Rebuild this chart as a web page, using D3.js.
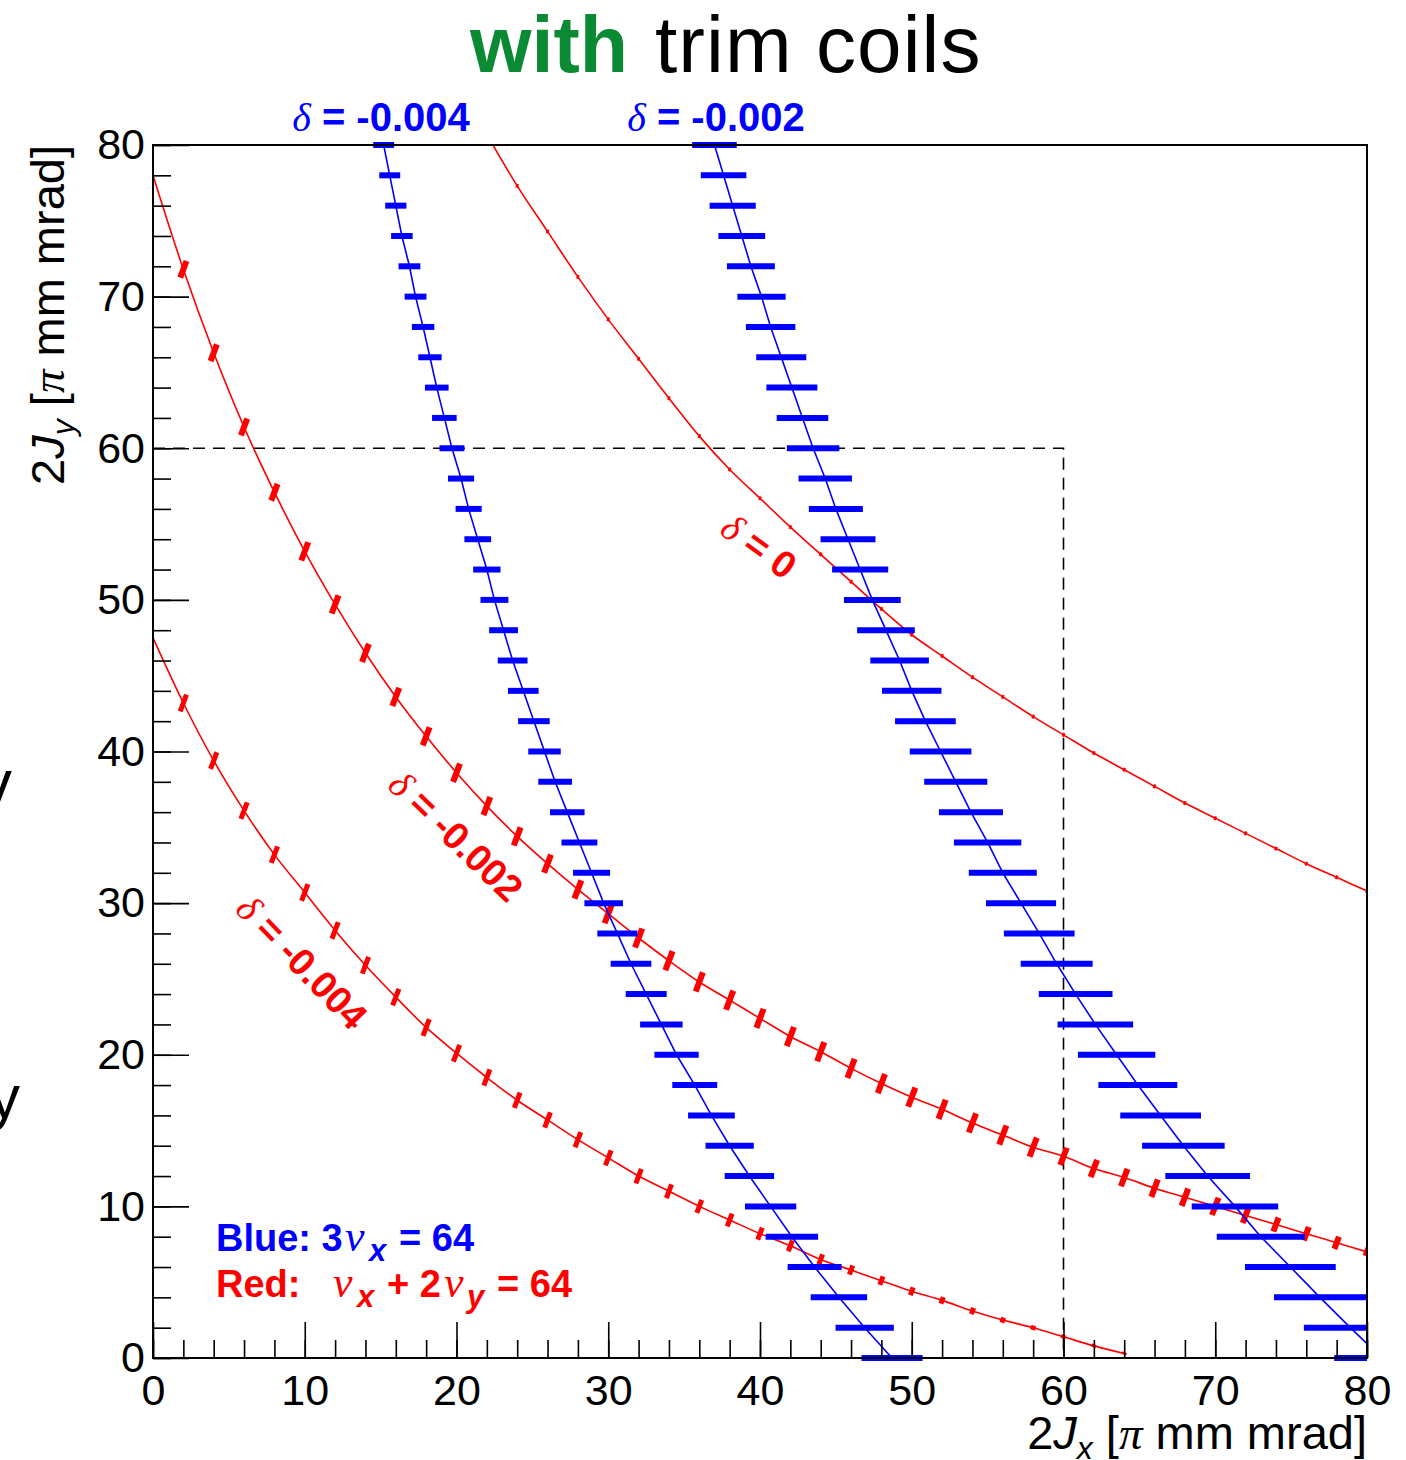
<!DOCTYPE html>
<html>
<head>
<meta charset="utf-8">
<script src="https://cdn.jsdelivr.net/npm/d3@7"></script>
<style>
  body { margin: 0; background: #fff; }
  svg { display: block; }
  text { font-family: "Liberation Sans", Arial, Helvetica, sans-serif; }
  .greek { font-family: "Liberation Serif", "Times New Roman", serif; font-style: italic; font-weight: normal; }
</style>
</head>
<body>
<svg id="chart" width="1406" height="1460"></svg>
<script>
// ---- axis ticks ----
const majorTicks = [0, 10, 20, 30, 40, 50, 60, 70, 80];
const minorTicks = [0, 2, 4, 6, 8, 10, 12, 14, 16, 18, 20, 22, 24, 26, 28, 30, 32, 34, 36, 38, 40,
                    42, 44, 46, 48, 50, 52, 54, 56, 58, 60, 62, 64, 66, 68, 70, 72, 74, 76, 78, 80];

// ---- blue: 3 nu_x = 64, sampled at fixed 2Jy levels (horizontal spread = error) ----
const blueLevels = [80, 78, 76, 74, 72, 70, 68, 66, 64, 62, 60, 58, 56, 54, 52, 50, 48, 46, 44, 42, 40,
                    38, 36, 34, 32, 30, 28, 26, 24, 22, 20, 18, 16, 14, 12, 10, 8, 6, 4, 2, 0];
const blueJx004 = [15.2, 15.6, 16.0, 16.4, 16.9, 17.3, 17.8, 18.25, 18.7, 19.2, 19.7, 20.3, 20.8, 21.4, 22.0,
                   22.5, 23.1, 23.7, 24.4, 25.1, 25.8, 26.5, 27.3, 28.1, 28.9, 29.7, 30.6, 31.5, 32.5, 33.5,
                   34.5, 35.7, 36.8, 38.0, 39.3, 40.7, 42.1, 43.6, 45.2, 46.9, 48.7];
const blueErr004 = [0.69, 0.69, 0.70, 0.71, 0.72, 0.72, 0.74, 0.77, 0.78, 0.81, 0.82, 0.86, 0.86, 0.88, 0.90,
                    0.92, 0.95, 0.98, 1.01, 1.04, 1.07, 1.11, 1.14, 1.18, 1.22, 1.27, 1.32, 1.34, 1.35, 1.40,
                    1.46, 1.48, 1.54, 1.59, 1.63, 1.69, 1.73, 1.78, 1.86, 1.92, 2.01];
const blueJx002 = [37.0, 37.6, 38.2, 38.8, 39.4, 40.1, 40.7, 41.4, 42.1, 42.8, 43.5, 44.3, 45.0, 45.8, 46.6,
                   47.4, 48.3, 49.2, 50.0, 50.9, 51.9, 52.9, 53.9, 55.0, 56.0, 57.2, 58.4, 59.55, 60.8, 62.1,
                   63.5, 64.9, 66.4, 67.9, 69.5, 71.3, 73.0, 74.95, 76.9, 78.9, 81.0];
const blueErr002 = [1.47, 1.50, 1.52, 1.54, 1.58, 1.59, 1.63, 1.65, 1.68, 1.70, 1.73, 1.76, 1.78, 1.81, 1.85,
                    1.87, 1.90, 1.93, 1.96, 2.00, 2.03, 2.08, 2.11, 2.22, 2.24, 2.31, 2.33, 2.37, 2.43, 2.49,
                    2.55, 2.60, 2.66, 2.72, 2.79, 2.85, 2.90, 2.99, 3.03, 3.06, 3.16];

// ---- red: nu_x + 2 nu_y = 64, sampled at fixed 2Jx values (vertical spread = error) ----
const redJx0 = [22, 24, 26, 28, 30, 32, 34, 36, 38, 40, 42, 44, 46, 48, 50, 52, 54, 56, 58, 60,
                62, 64, 66, 68, 70, 72, 74, 76, 78, 80];
const redJy0 = [80.7, 77.3, 74.3, 71.3, 68.5, 65.9, 63.3, 60.8, 58.6, 56.7, 54.8, 53.0, 51.2, 49.4, 47.7,
                46.3, 44.9, 43.6, 42.3, 41.1, 39.9, 38.8, 37.7, 36.6, 35.6, 34.6, 33.6, 32.6, 31.7, 30.8];
const redErr0 = [0.12, 0.12, 0.12, 0.12, 0.12, 0.12, 0.12, 0.12, 0.12, 0.12, 0.12, 0.12, 0.12, 0.12, 0.12,
                 0.12, 0.12, 0.12, 0.12, 0.12, 0.12, 0.12, 0.12, 0.12, 0.12, 0.12, 0.12, 0.12, 0.12, 0.12];

const redJx002 = [0, 2, 4, 6, 8, 10, 12, 14, 16, 18, 20, 22, 24, 26, 28, 30, 32, 34, 36, 38, 40,
                  42, 44, 46, 48, 50, 52, 54, 56, 58, 60, 62, 64, 66, 68, 70, 72, 74, 76, 78, 80];
const redJy002 = [78.0, 71.8, 66.3, 61.4, 57.1, 53.2, 49.7, 46.5, 43.6, 41.0, 38.6, 36.4, 34.4, 32.6, 30.9,
                  29.3, 27.7, 26.2, 24.8, 23.6, 22.4, 21.2, 20.2, 19.1, 18.1, 17.2, 16.4, 15.5, 14.7, 13.9,
                  13.3, 12.5, 11.9, 11.2, 10.6, 10.0, 9.4, 8.8, 8.2, 7.6, 7.0];
const redErr002 = [0, 0.55, 0.55, 0.55, 0.55, 0.6, 0.6, 0.6, 0.6, 0.6, 0.6, 0.6, 0.6, 0.6, 0.6,
                   0.63, 0.63, 0.63, 0.63, 0.63, 0.63, 0.63, 0.63, 0.63, 0.63, 0.63, 0.63, 0.63, 0.63, 0.63,
                   0.57, 0.57, 0.57, 0.57, 0.57, 0.57, 0.5, 0.46, 0.44, 0.4, 0.27];

const redJx004 = [0, 2, 4, 6, 8, 10, 12, 14, 16, 18, 20, 22, 24, 26, 28, 30, 32, 34, 36, 38, 40,
                  42, 44, 46, 48, 50, 52, 54, 56, 58, 60, 62, 64];
const redJy004 = [47.5, 43.2, 39.4, 36.1, 33.2, 30.7, 28.2, 25.9, 23.8, 21.8, 20.1, 18.5, 17.0, 15.7, 14.4,
                  13.2, 12.0, 11.0, 10.0, 9.1, 8.2, 7.4, 6.5, 5.8, 5.1, 4.4, 3.8, 3.1, 2.5, 2.0, 1.4, 0.8, 0.3];
const redErr004 = [0, 0.55, 0.55, 0.55, 0.55, 0.55, 0.55, 0.55, 0.55, 0.55, 0.55, 0.53, 0.5, 0.5, 0.5,
                   0.5, 0.48, 0.45, 0.43, 0.42, 0.4, 0.36, 0.33, 0.3, 0.28, 0.26, 0.22, 0.2, 0.17, 0.14,
                   0.12, 0.1, 0.08];

// reference box: 2Jx <= 60, 2Jy <= 60
const boxJx = [0, 60, 60];
const boxJy = [60, 60, 0];

// ---- layout ----
const svg = d3.select("#chart");
const L = 153, R = 1367, T = 145, B = 1358;
const x = d3.scaleLinear().domain([0, 80]).range([L, R]);
const y = d3.scaleLinear().domain([0, 80]).range([B, T]);

const BLUE = "#0000ff", RED = "#ff0000";

const defs = svg.append("defs");
defs.append("clipPath").attr("id", "plotClip")
  .append("rect").attr("x", L).attr("y", T).attr("width", R - L).attr("height", B - T);
defs.append("clipPath").attr("id", "barClip")
  .append("rect").attr("x", L).attr("y", T - 8).attr("width", R - L).attr("height", B - T + 16);

// ---- title ----
svg.append("text").attr("x", 470).attr("y", 72).attr("font-size", 79)
  .attr("fill", "#0a8a32").attr("font-weight", "bold").text("with");
svg.append("text").attr("x", 655).attr("y", 72).attr("font-size", 80)
  .attr("letter-spacing", 1.1).attr("fill", "#000").text("trim coils");

// ---- dashed reference box ----
svg.append("path")
  .attr("d", d3.line().x((d, i) => x(boxJx[i])).y((d, i) => y(boxJy[i]))(boxJx))
  .attr("fill", "none").attr("stroke", "#000").attr("stroke-width", 1.6)
  .attr("stroke-dasharray", "12,8");

// ---- red curves ----
const redG = svg.append("g");
function redCurve(xs, ys, es, tickWidth) {
  const pts = xs.map((v, i) => [v, ys[i], es[i]]);
  redG.append("path")
    .attr("clip-path", "url(#plotClip)")
    .attr("d", d3.line().x(d => x(d[0])).y(d => y(d[1])).curve(d3.curveMonotoneX)(pts))
    .attr("fill", "none").attr("stroke", RED).attr("stroke-width", 1.6);
  const k = 0.38; // slant of the error ticks
  redG.append("g").attr("clip-path", "url(#plotClip)")
    .selectAll("line").data(pts.filter(d => d[2] > 0)).join("line")
    .attr("x1", d => x(d[0]) - k * (y(d[1] - d[2]) - y(d[1])))
    .attr("y1", d => y(d[1] - d[2]))
    .attr("x2", d => x(d[0]) + k * (y(d[1] - d[2]) - y(d[1])))
    .attr("y2", d => y(d[1] + d[2]))
    .attr("stroke", RED).attr("stroke-width", tickWidth);
}
redCurve(redJx0, redJy0, redErr0, 2.5);
redCurve(redJx002, redJy002, redErr002, 6);
redCurve(redJx004, redJy004, redErr004, 5);

// ---- blue curves ----
const blueG = svg.append("g");
function blueCurve(xs, es) {
  const pts = blueLevels.map((v, i) => [xs[i], v, es[i]]);
  blueG.append("g").attr("clip-path", "url(#barClip)")
    .selectAll("line").data(pts).join("line")
    .attr("x1", d => x(d[0] - d[2])).attr("x2", d => x(d[0] + d[2]))
    .attr("y1", d => y(d[1])).attr("y2", d => y(d[1]))
    .attr("stroke", BLUE).attr("stroke-width", 6);
  blueG.append("path")
    .attr("clip-path", "url(#plotClip)")
    .attr("d", d3.line().x(d => x(d[0])).y(d => y(d[1]))(pts))
    .attr("fill", "none").attr("stroke", BLUE).attr("stroke-width", 1.6);
}
blueCurve(blueJx004, blueErr004);
blueCurve(blueJx002, blueErr002);

// ---- axes (ticks point inward) ----
const axG = svg.append("g");
axG.append("g").attr("transform", `translate(${L},0)`)
  .call(d3.axisLeft(y).tickValues(minorTicks).tickSize(-18).tickFormat(""));
axG.append("g").attr("transform", `translate(${L},0)`)
  .call(d3.axisLeft(y).tickValues(majorTicks).tickSize(-36).tickPadding(8).tickFormat(d3.format("d")));
axG.append("g").attr("transform", `translate(0,${B})`)
  .call(d3.axisBottom(x).tickValues(minorTicks).tickSize(-18).tickFormat(""));
axG.append("g").attr("transform", `translate(0,${B})`)
  .call(d3.axisBottom(x).tickValues(majorTicks).tickSize(-36).tickPadding(16).tickFormat(d3.format("d")));
axG.selectAll(".domain").remove();
axG.selectAll(".tick line").attr("stroke", "#000").attr("stroke-width", 1.6);
axG.selectAll(".tick text").attr("font-size", 43).attr("fill", "#000")
  .attr("font-family", "'Liberation Sans', Arial, Helvetica, sans-serif");

// frame
svg.append("rect").attr("x", L).attr("y", T).attr("width", R - L).attr("height", B - T)
  .attr("fill", "none").attr("stroke", "#000").attr("stroke-width", 2);

// ---- axis titles ----
function axisTitle(sel, sub) {
  sel.append("tspan").text("2");
  sel.append("tspan").attr("font-style", "italic").text("J");
  sel.append("tspan").attr("font-style", "italic").attr("font-size", 32).attr("dy", 10).text(sub);
  sel.append("tspan").attr("dy", -10).text(" [");
  sel.append("tspan").attr("class", "greek").text("π");
  sel.append("tspan").text(" mm mrad]");
}
const xt = svg.append("text").attr("x", R).attr("y", 1449).attr("text-anchor", "end").attr("font-size", 47);
axisTitle(xt, "x");
const yt = svg.append("text").attr("transform", "translate(64,145) rotate(-90)")
  .attr("text-anchor", "end").attr("font-size", 47);
axisTitle(yt, "y");

// ---- curve labels ----
function deltaLabel(g, value) {
  g.append("tspan").attr("class", "greek").text("δ");
  g.append("tspan").text(" = " + value);
}
const topLab = [["-0.004", 381], ["-0.002", 716]];
topLab.forEach(([v, cx]) => {
  const t = svg.append("text").attr("x", cx).attr("y", 131).attr("text-anchor", "middle")
    .attr("font-size", 40).attr("font-weight", "bold").attr("fill", BLUE);
  deltaLabel(t, v);
});
const redLab = [["0", 759, 546, 36], ["-0.002", 456, 836, 44], ["-0.004", 302, 962, 46]];
redLab.forEach(([v, cx, cy, ang]) => {
  const t = svg.append("text").attr("transform", `translate(${cx},${cy}) rotate(${ang})`)
    .attr("text-anchor", "middle").attr("dy", "0.35em")
    .attr("font-size", 38).attr("font-weight", "bold").attr("fill", RED);
  deltaLabel(t, v);
});

// ---- legend ----
const lb = svg.append("text").attr("y", 1251).attr("font-size", 38)
  .attr("font-weight", "bold").attr("fill", BLUE);
lb.append("tspan").attr("x", 216).text("Blue: 3");
lb.append("tspan").attr("x", 345).attr("class", "greek").attr("font-size", 44).text("ν");
lb.append("tspan").attr("x", 369).attr("font-style", "italic").attr("font-size", 31).attr("dy", 10).text("x");
lb.append("tspan").attr("x", 399).attr("dy", -10).text("= 64");

const lr = svg.append("text").attr("y", 1297).attr("font-size", 38)
  .attr("font-weight", "bold").attr("fill", RED);
lr.append("tspan").attr("x", 216).text("Red:");
lr.append("tspan").attr("x", 333).attr("class", "greek").attr("font-size", 44).text("ν");
lr.append("tspan").attr("x", 357).attr("font-style", "italic").attr("font-size", 31).attr("dy", 10).text("x");
lr.append("tspan").attr("x", 387).attr("dy", -10).text("+ 2");
lr.append("tspan").attr("x", 444).attr("class", "greek").attr("font-size", 44).text("ν");
lr.append("tspan").attr("x", 467).attr("font-style", "italic").attr("font-size", 31).attr("dy", 10).text("y");
lr.append("tspan").attr("x", 497).attr("dy", -10).text("= 64");

// ---- glyph fragments at the left page edge ----
svg.append("text").attr("x", -19).attr("y", 803).attr("font-size", 62).text("v");
svg.append("text").attr("x", -11).attr("y", 1118).attr("font-size", 62).text("y");
</script>
</body>
</html>
